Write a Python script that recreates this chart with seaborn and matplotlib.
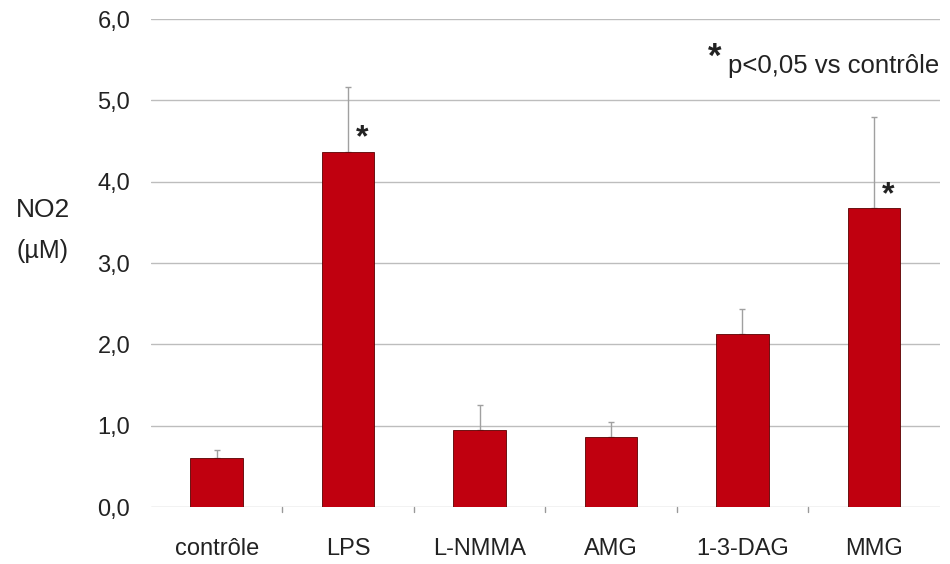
import matplotlib
matplotlib.use("Agg")
import matplotlib.pyplot as plt
import seaborn as sns
import pandas as pd

# Nitrite production per treatment (mean and upper SD)
categories = ["contrôle", "LPS", "L-NMMA", "AMG", "1-3-DAG", "MMG"]
means = [0.60, 4.37, 0.95, 0.86, 2.13, 3.68]
errors = [0.10, 0.79, 0.31, 0.19, 0.30, 1.12]
significant = [False, True, False, False, False, True]
yticks = [0, 1, 2, 3, 4, 5, 6]
ytick_labels = ["0,0", "1,0", "2,0", "3,0", "4,0", "5,0", "6,0"]

sns.set_theme(style="white")
plt.rcParams["font.family"] = ["Liberation Sans", "DejaVu Sans"]

df = pd.DataFrame({"traitement": categories, "NO2": means})

fig = plt.figure(figsize=(9.5, 5.64), dpi=100)
ax = fig.add_axes([0.159, 0.101, 0.83, 0.865])

for y in yticks:
    ax.axhline(y, color="#bdbdbd", linewidth=1.0, zorder=0)

sns.barplot(data=df, x="traitement", y="NO2", color="#c0000f",
            width=0.4, saturation=1, edgecolor="#5a0000", linewidth=0.6,
            errorbar=None, ax=ax, zorder=2)

xs = list(range(len(categories)))
ax.errorbar(xs, means, yerr=[[0] * len(errors), errors], fmt="none",
            ecolor="#a0a0a0", elinewidth=1.0, capsize=2.5, capthick=1.0, zorder=1)

for x, m, s in zip(xs, means, significant):
    if s:
        ax.text(x + 0.11, m + 0.16, "*", fontsize=23, ha="center", va="center",
                color="#222222", fontweight="bold")

fig.text(715 / 950, 1 - 57 / 564, "*", fontsize=25, ha="center", va="center",
         color="#222222", fontweight="bold")
fig.text(728 / 950, 1 - 66 / 564, "p<0,05 vs contrôle", fontsize=18.5,
         ha="left", va="center", color="#222222")

ax.set_ylim(0, 6)
ax.set_xlim(-0.5, len(categories) - 0.5)
ax.set_yticks(yticks)
ax.set_yticklabels(ytick_labels, fontsize=17, color="#222222")
ax.tick_params(axis="y", length=0, pad=15)
ax.tick_params(axis="x", length=0, pad=22, labelsize=17, labelcolor="#222222")
ax.set_xlabel("")
ax.set_ylabel("")
for sp in ax.spines.values():
    sp.set_visible(False)

# small separators between categories on the baseline
for b in [i + 0.5 for i in range(len(categories) - 1)]:
    ax.plot([b, b], [0, -0.06], color="#999999", linewidth=1.0, clip_on=False)

fig.text(43 / 950, 1 - 210 / 564, "NO2", fontsize=19, ha="center", va="center",
         color="#222222")
fig.text(43 / 950, 1 - 251 / 564, "(µM)", fontsize=18, ha="center", va="center",
         color="#222222")

fig.savefig("out.png", dpi=100)
